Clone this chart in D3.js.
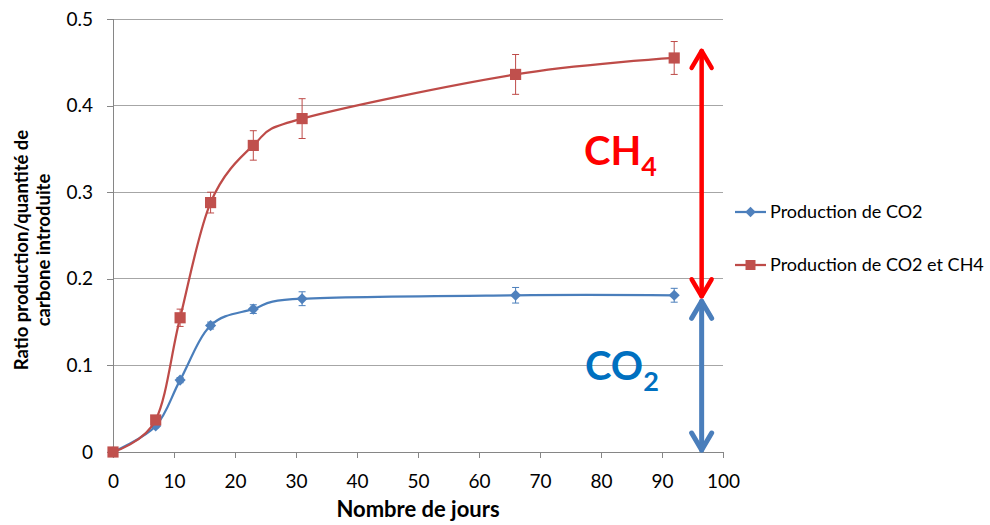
<!DOCTYPE html>
<html><head><meta charset="utf-8">
<script src="https://cdn.jsdelivr.net/npm/d3@7"></script>
<style>body{margin:0;background:#fff}svg{display:block}text{font-family:Lato,"Open Sans",sans-serif}</style>
</head><body>
<svg id="c" width="990" height="525"></svg>
<script>
const days = [0, 7, 11, 16, 23, 31, 66, 92];
const co2 = [0, 0.030, 0.083, 0.146, 0.165, 0.177, 0.181, 0.181];
const co2Err = [0, 0.002, 0.003, 0.004, 0.005, 0.008, 0.009, 0.008];
const ch4 = [0, 0.037, 0.155, 0.288, 0.354, 0.385, 0.436, 0.455];
const ch4Err = [0, 0.003, 0.010, 0.012, 0.017, 0.023, 0.023, 0.019];
const xTicks = [0, 10, 20, 30, 40, 50, 60, 70, 80, 90, 100];
const yTicks = [0, 0.1, 0.2, 0.3, 0.4, 0.5];
const seriesNames = ["Production de CO2", "Production de CO2 et CH4"];
const arrowX = 96.5;           // day position of annotation arrows
const co2Level = 0.181, ch4Level = 0.455;

const svg = d3.select("#c");
const x = d3.scaleLinear().domain([0, 100]).range([113, 723]);
const y = d3.scaleLinear().domain([0, 0.5]).range([452, 19]);
const gridC = "#a6a6a6", axisC = "#868686";
const blue = "#4a7ebb", blueM = "#4f81bd", red = "#be4b48", redM = "#c0504d";

// gridlines
svg.append("g").selectAll("line").data(yTicks.filter(d => d > 0)).join("line")
  .attr("x1", x(0)).attr("x2", x(100)).attr("y1", d => y(d)).attr("y2", d => y(d))
  .attr("stroke", gridC).attr("stroke-width", 1).attr("shape-rendering", "crispEdges");

// axes
const xAxis = svg.append("g").attr("transform", `translate(0,${y(0)})`)
  .call(d3.axisBottom(x).tickValues(xTicks).tickSize(6).tickPadding(17).tickFormat(d3.format("d")));
const yAxis = svg.append("g").attr("transform", `translate(${x(0)},0)`)
  .call(d3.axisLeft(y).tickValues(yTicks).tickSize(6).tickPadding(14).tickFormat(d => d === 0 ? "0" : d3.format(".1f")(d)));
[xAxis, yAxis].forEach(g => {
  g.select(".domain").attr("stroke", axisC).attr("shape-rendering", "crispEdges");
  g.selectAll(".tick line").attr("stroke", axisC).attr("shape-rendering", "crispEdges");
  g.selectAll("text").attr("fill", "#000").style("font-size", "19px").style("font-family", "Lato, sans-serif");
});
yAxis.select(".domain").attr("d", `M-6,${y(0.5)}H0V${y(0)}H-6`);

// axis titles
svg.append("text").attr("x", 418).attr("y", 517).attr("text-anchor", "middle")
  .style("font-size", "22px").style("font-weight", "bold").text("Nombre de jours");
const yt = svg.append("text").attr("transform", "translate(28,250) rotate(-90)")
  .attr("text-anchor", "middle").style("font-size", "18.5px").style("font-weight", "bold");
yt.append("tspan").attr("x", 0).attr("dy", 0).text("Ratio production/quantité de");
yt.append("tspan").attr("x", 0).attr("dy", 22).text("carbone introduite");

const line = d3.line().x((d, i) => x(days[i])).y(d => y(d)).curve(d3.curveCatmullRom.alpha(0));

function drawSeries(vals, errs, col, mcol, rot, size) {
  const g = svg.append("g");
  // error bars
  vals.forEach((v, i) => {
    if (!errs[i]) return;
    const cx = x(days[i]);
    g.append("line").attr("x1", cx).attr("x2", cx).attr("y1", y(v - errs[i])).attr("y2", y(v + errs[i]))
      .attr("stroke", col).attr("stroke-width", 1);
    [v - errs[i], v + errs[i]].forEach(e => g.append("line").attr("x1", cx - 3.5).attr("x2", cx + 3.5)
      .attr("y1", y(e)).attr("y2", y(e)).attr("stroke", col).attr("stroke-width", 1));
  });
  g.append("path").datum(vals).attr("d", line).attr("fill", "none").attr("stroke", col).attr("stroke-width", 2.25);
  g.selectAll(".m").data(vals).join("path")
    .attr("transform", (d, i) => `translate(${x(days[i])},${y(d)}) rotate(${rot})`)
    .attr("d", d3.symbol().type(d3.symbolSquare).size(size)).attr("fill", mcol);
}
drawSeries(co2, co2Err, blue, blueM, 45, 62);
drawSeries(ch4, ch4Err, red, redM, 0, 125);

// legend
const lg = svg.append("g");
[[blue, blueM, 45, 55, 212], [red, redM, 0, 100, 265]].forEach((s, i) => {
  lg.append("line").attr("x1", 735).attr("x2", 766).attr("y1", s[4]).attr("y2", s[4]).attr("stroke", s[0]).attr("stroke-width", 2.25);
  lg.append("path").attr("transform", `translate(750.5,${s[4]}) rotate(${s[2]})`).attr("d", d3.symbol().type(d3.symbolSquare).size(s[3])).attr("fill", s[1]);
  lg.append("text").attr("x", 770).attr("y", s[4] + 6).style("font-size", "18px").text(seriesNames[i]);
});

// annotation arrows
function dblArrow(xp, y1, y2, col, w) {
  const g = svg.append("g").attr("stroke", col).attr("stroke-width", w).attr("fill", "none")
    .attr("stroke-linecap", "round").attr("stroke-linejoin", "round");
  g.append("line").attr("x1", xp).attr("x2", xp).attr("y1", y1 + 2).attr("y2", y2 - 2);
  g.append("path").attr("d", `M${xp - 10},${y1 + 19}L${xp},${y1 + 2}L${xp + 10},${y1 + 19}`);
  g.append("path").attr("d", `M${xp - 10},${y2 - 19}L${xp},${y2 - 2}L${xp + 10},${y2 - 19}`);
}
dblArrow(x(arrowX), y(ch4Level) - 9, y(co2Level) + 3, "#ff0000", 4.5);
dblArrow(x(arrowX), y(co2Level) + 4, y(0), "#4a7ebb", 5);

function chem(xp, yp, main, sub, col) {
  const t = svg.append("text").attr("x", xp).attr("y", yp).attr("fill", col)
    .style("font-weight", "bold").style("font-size", "40px");
  t.append("tspan").text(main);
  t.append("tspan").attr("dy", 11).style("font-size", "27px").text(sub);
}
chem(584, 165, "CH", "4", "#ff0000");
chem(585, 380, "CO", "2", "#0070c0");
</script>
</body></html>
